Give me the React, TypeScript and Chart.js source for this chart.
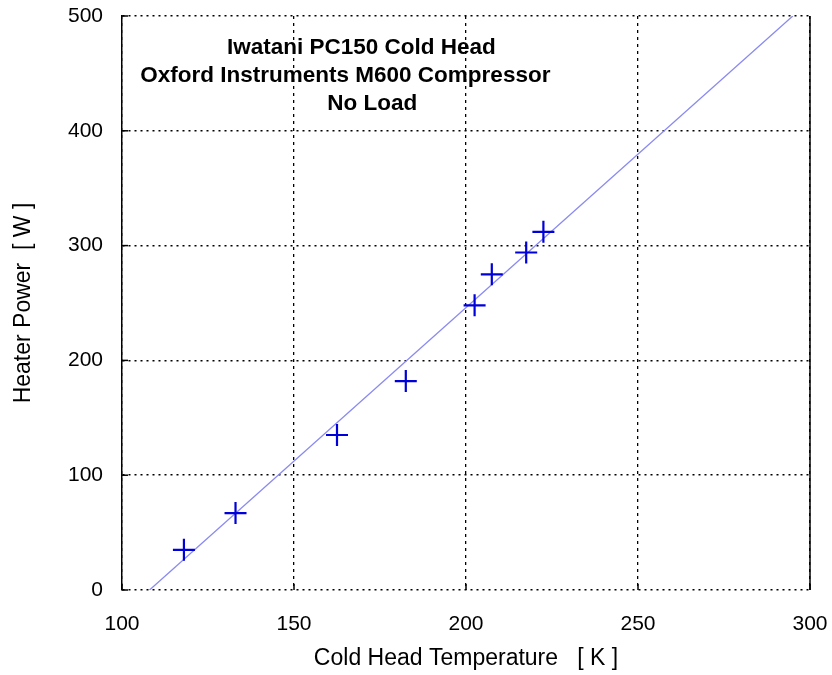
import React, { useEffect, useRef } from "react";
import { Chart, registerables } from "chart.js";

Chart.register(...registerables);

const temperatures = [118, 133, 162.5, 182.5, 202.5, 207.5, 217.5, 222.5];
const heaterPowers = [35, 67, 135, 182, 248, 275, 294, 312];
const fitTemperatures = [108, 295];
const fitPowers = [0, 500];
const titleLines = [
  "Iwatani PC150 Cold Head",
  "Oxford Instruments M600 Compressor",
  "No Load",
];
const xTitle = "Cold Head Temperature   [ K ]";
const yTitle = "Heater Power  [ W ]";

const FONT = "'Liberation Sans', Arial, sans-serif";
const TITLE_LINE_SHIFT = [2, -14, 13];

const frameAndTitle = {
  id: "frameAndTitle",
  afterDatasetsDraw(chart: any) {
    const { ctx, chartArea } = chart;
    const xs = chart.scales.x;
    const ys = chart.scales.y;
    ctx.save();
    ctx.strokeStyle = "#000";
    ctx.lineWidth = 1.5;
    // right frame edge (solid)
    ctx.beginPath();
    ctx.moveTo(chartArea.right, chartArea.top);
    ctx.lineTo(chartArea.right, chartArea.bottom);
    ctx.stroke();
    // small inward tick marks
    xs.ticks.forEach((t: any) => {
      const px = xs.getPixelForValue(t.value);
      ctx.beginPath();
      ctx.moveTo(px, chartArea.bottom);
      ctx.lineTo(px, chartArea.bottom - 6);
      ctx.stroke();
    });
    ys.ticks.forEach((t: any) => {
      const py = ys.getPixelForValue(t.value);
      ctx.beginPath();
      ctx.moveTo(chartArea.left, py);
      ctx.lineTo(chartArea.left + 6, py);
      ctx.stroke();
    });
    ctx.fillStyle = "#000";
    ctx.font = `bold 22.5px ${FONT}`;
    ctx.textAlign = "center";
    ctx.textBaseline = "middle";
    const cx = xs.getPixelForValue(169);
    titleLines.forEach((line, i) => {
      ctx.fillText(line, cx + TITLE_LINE_SHIFT[i], chartArea.top + 32 + i * 28);
    });
    ctx.restore();
  },
};

export default function App() {
  const canvasRef = useRef<HTMLCanvasElement | null>(null);

  useEffect(() => {
    document.body.style.margin = "0";
    const canvas = canvasRef.current;
    if (!canvas) return;
    const chart = new Chart(canvas, {
      type: "scatter",
      data: {
        datasets: [
          {
            label: "fit",
            data: fitTemperatures.map((x, i) => ({ x, y: fitPowers[i] })),
            showLine: true,
            borderColor: "#8a8af2",
            borderWidth: 1.3,
            pointRadius: 0,
            order: 2,
          },
          {
            label: "measured",
            data: temperatures.map((x, i) => ({ x, y: heaterPowers[i] })),
            showLine: false,
            pointStyle: "cross",
            pointRadius: 11,
            pointBorderWidth: 2.2,
            borderColor: "#0000d8",
            backgroundColor: "#0000d8",
            order: 1,
          },
        ],
      },
      options: {
        animation: false,
        responsive: true,
        maintainAspectRatio: false,
        layout: { padding: { top: 16, right: 22, left: 0, bottom: 0 } },
        plugins: {
          legend: { display: false },
          tooltip: { enabled: false },
        },
        scales: {
          x: {
            type: "linear",
            min: 100,
            max: 300,
            ticks: {
              stepSize: 50,
              color: "#000",
              font: { family: FONT, size: 21 },
              padding: 22,
            },
            grid: { color: "#000", lineWidth: 1.3, drawTicks: false },
            border: { display: false, color: "#000", width: 1.5, dash: [3, 4] },
            title: {
              display: true,
              text: xTitle,
              color: "#000",
              font: { family: FONT, size: 23 },
              padding: { top: 0, bottom: 3 },
            },
            afterFit(scale: any) {
              scale.height = 85;
              scale.paddingLeft = 0;
              scale.paddingRight = 0;
            },
          },
          y: {
            type: "linear",
            min: 0,
            max: 500,
            ticks: {
              stepSize: 100,
              color: "#000",
              font: { family: FONT, size: 21 },
              padding: 19,
            },
            grid: { color: "#000", lineWidth: 1.6, drawTicks: false },
            border: { display: true, color: "#000", width: 1.5, dash: [2, 4] },
            title: {
              display: true,
              text: yTitle,
              color: "#000",
              font: { family: FONT, size: 23 },
              padding: { top: 10, bottom: 0 },
            },
            afterFit(scale: any) {
              scale.width = 122;
              scale.paddingTop = 0;
              scale.paddingBottom = 0;
            },
          },
        },
      },
      plugins: [frameAndTitle],
    });
    return () => chart.destroy();
  }, []);

  return (
    <div style={{ position: "fixed", left: 0, top: 0, width: 832, height: 675, background: "#fff" }}>
      <canvas ref={canvasRef} />
    </div>
  );
}
